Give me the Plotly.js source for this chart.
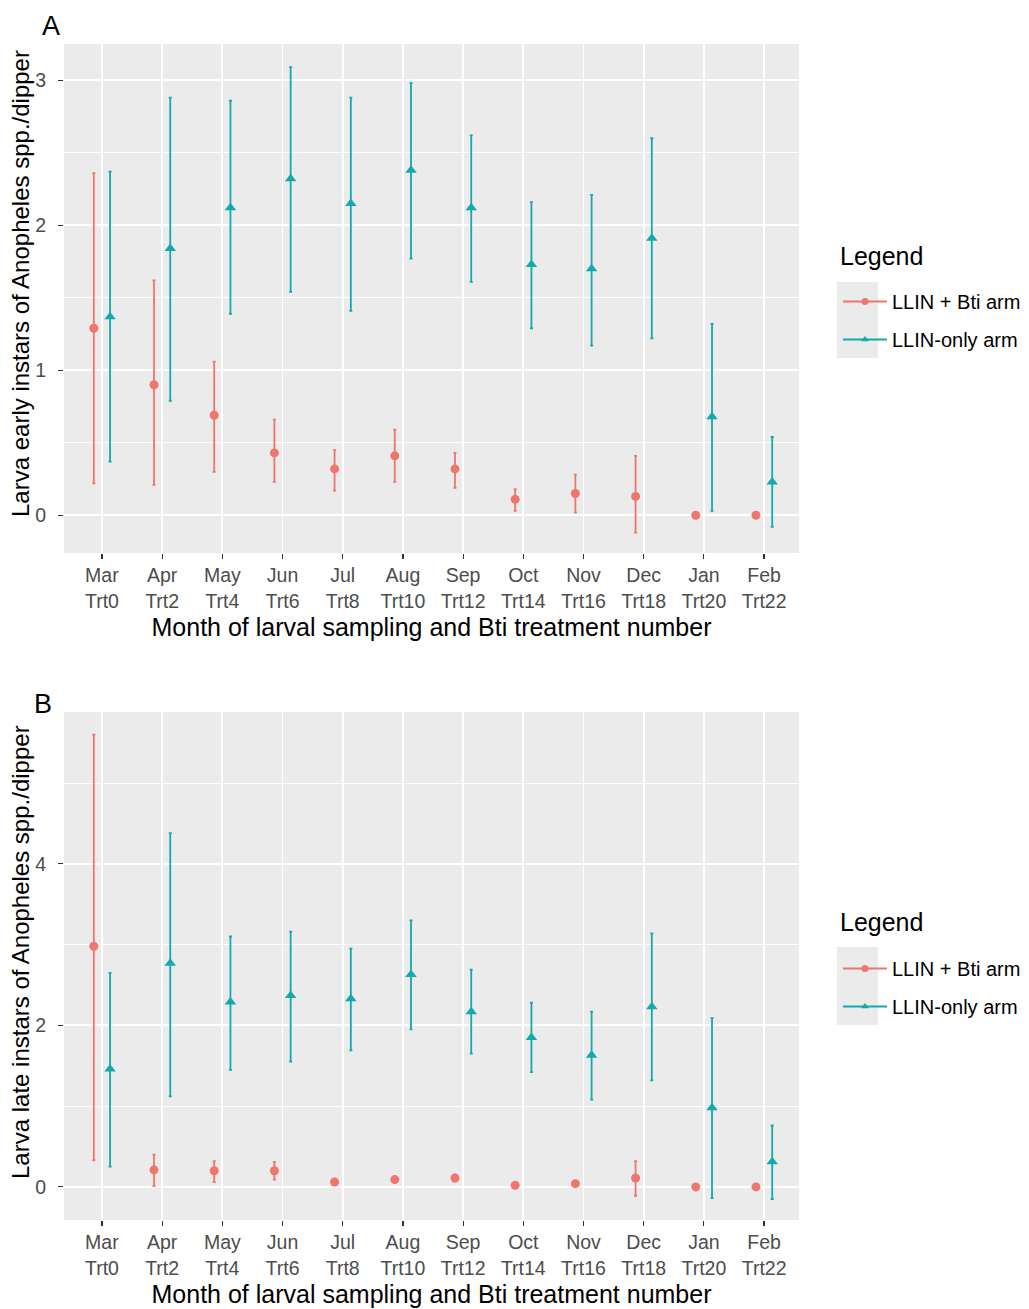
<!DOCTYPE html>
<html>
<head>
<meta charset="utf-8">
<script src="https://cdn.plot.ly/plotly-3.0.1.min.js"></script>
<style>
  html, body { margin: 0; padding: 0; background: #ffffff; }
  #chart { width: 1029px; height: 1309px; }
</style>
</head>
<body>
<div id="chart"></div>
<script>
// Sampling months and Bti treatment numbers
const months = ['Mar', 'Apr', 'May', 'Jun', 'Jul', 'Aug', 'Sep', 'Oct', 'Nov', 'Dec', 'Jan', 'Feb'];
const treatments = ['Trt0', 'Trt2', 'Trt4', 'Trt6', 'Trt8', 'Trt10', 'Trt12', 'Trt14', 'Trt16', 'Trt18', 'Trt20', 'Trt22'];

// A: early instars per dipper (mean, lower and upper interval limits)
const earlyBtiMean = [1.29, 0.90, 0.69, 0.43, 0.32, 0.41, 0.32, 0.11, 0.15, 0.13, 0.00, 0.00];
const earlyBtiLow  = [0.22, 0.21, 0.30, 0.23, 0.17, 0.23, 0.19, 0.03, 0.02, -0.12, 0.00, 0.00];
const earlyBtiHigh = [2.36, 1.62, 1.06, 0.66, 0.45, 0.59, 0.43, 0.18, 0.28, 0.41, 0.00, 0.00];

const earlyOnlyMean = [1.37, 1.84, 2.12, 2.32, 2.15, 2.38, 2.12, 1.73, 1.70, 1.91, 0.68, 0.23];
const earlyOnlyLow  = [0.37, 0.79, 1.39, 1.54, 1.41, 1.77, 1.61, 1.29, 1.17, 1.22, 0.03, -0.08];
const earlyOnlyHigh = [2.37, 2.88, 2.86, 3.09, 2.88, 2.98, 2.62, 2.16, 2.21, 2.60, 1.32, 0.54];

// B: late instars per dipper
const lateBtiMean = [2.98, 0.21, 0.20, 0.20, 0.06, 0.09, 0.11, 0.02, 0.04, 0.11, 0.00, 0.00];
const lateBtiLow  = [0.33, 0.01, 0.06, 0.09, 0.06, 0.09, 0.07, 0.02, 0.04, -0.11, 0.00, 0.00];
const lateBtiHigh = [5.60, 0.40, 0.32, 0.31, 0.06, 0.09, 0.15, 0.02, 0.04, 0.32, 0.00, 0.00];

const lateOnlyMean = [1.46, 2.77, 2.29, 2.37, 2.33, 2.63, 2.17, 1.85, 1.63, 2.23, 0.98, 0.31];
const lateOnlyLow  = [0.25, 1.12, 1.45, 1.55, 1.69, 1.95, 1.65, 1.42, 1.08, 1.32, -0.14, -0.15];
const lateOnlyHigh = [2.65, 4.38, 3.10, 3.16, 2.95, 3.30, 2.69, 2.28, 2.17, 3.14, 2.09, 0.76];

const seriesNames = ['LLIN + Bti arm', 'LLIN-only arm'];
const xTitle = 'Month of larval sampling and Bti treatment number';
const yTitleA = 'Larva early instars of Anopheles spp./dipper';
const yTitleB = 'Larva late instars of Anopheles spp./dipper';

const W = 1029, H = 1309;
const RED = '#EE766E';
const TEAL = '#12AAAC';
const FONT = 'Liberation Sans, Arial, sans-serif';

const idx = months.map((_, i) => i);
const tickText = months.map((m, i) => m + '<br>' + treatments[i]);
const dodge = 0.135;

function px(v) { return v / W; }
function py(v) { return 1 - v / H; }

function armTrace(mean, low, high, shift, color, symbol, size, xa, ya) {
  return {
    type: 'scatter',
    mode: 'markers',
    x: idx.map(i => i + shift),
    y: mean,
    xaxis: xa, yaxis: ya,
    showlegend: false,
    hoverinfo: 'skip',
    marker: { color: color, symbol: symbol, size: size, line: { width: 0 } },
    error_y: {
      type: 'data', symmetric: false,
      array: mean.map((m, i) => high[i] - m),
      arrayminus: mean.map((m, i) => m - low[i]),
      color: color, thickness: 1.8, width: 1.5
    }
  };
}

function legendTrace(name, color, symbol, size, xa, ya, legendId, group) {
  return {
    type: 'scatter', mode: 'lines+markers',
    x: [null], y: [null], xaxis: xa, yaxis: ya,
    name: name, legend: legendId, legendgroup: group,
    line: { color: color, width: 1.8 },
    marker: { color: color, symbol: symbol, size: size }
  };
}

const data = [
  armTrace(earlyBtiMean, earlyBtiLow, earlyBtiHigh, -dodge, RED, 'circle', 9, 'x', 'y'),
  armTrace(earlyOnlyMean, earlyOnlyLow, earlyOnlyHigh, dodge, TEAL, 'triangle-up', 10, 'x', 'y'),
  armTrace(lateBtiMean, lateBtiLow, lateBtiHigh, -dodge, RED, 'circle', 9, 'x2', 'y2'),
  armTrace(lateOnlyMean, lateOnlyLow, lateOnlyHigh, dodge, TEAL, 'triangle-up', 10, 'x2', 'y2'),
  legendTrace(seriesNames[0], RED, 'circle', 7, 'x', 'y', 'legend', 'a1'),
  legendTrace(seriesNames[1], TEAL, 'triangle-up', 7, 'x', 'y', 'legend', 'a2'),
  legendTrace(seriesNames[0], RED, 'circle', 7, 'x2', 'y2', 'legend2', 'b1'),
  legendTrace(seriesNames[1], TEAL, 'triangle-up', 7, 'x2', 'y2', 'legend2', 'b2')
];

function xAxis(anchor) {
  return {
    anchor: anchor,
    domain: [px(64), px(799)],
    range: [-0.63, 11.58],
    tickmode: 'array', tickvals: idx, ticktext: tickText,
    showgrid: true, gridcolor: '#ffffff', gridwidth: 1.8,
    zeroline: false, showline: false,
    ticks: 'outside', ticklen: 5, tickwidth: 1.2, tickcolor: '#333333',
    tickfont: { family: FONT, size: 19.5, color: '#4D4D4D' },
    title: { text: xTitle, font: { family: FONT, size: 25, color: '#000000' }, standoff: 7 },
    fixedrange: true
  };
}

function yAxis(anchor, dom, rng, step) {
  return {
    anchor: anchor,
    domain: dom,
    range: rng,
    dtick: step, tick0: 0,
    showgrid: true, gridcolor: '#ffffff', gridwidth: 1.8,
    minor: { dtick: step / 2, tick0: 0, showgrid: true, gridcolor: '#ffffff', gridwidth: 0.9, ticks: '' },
    zeroline: false, showline: false,
    ticks: 'outside', ticklen: 5, tickwidth: 1.2, tickcolor: '#333333',
    ticklabelstandoff: 8,
    tickfont: { family: FONT, size: 19.5, color: '#4D4D4D' },
    fixedrange: true
  };
}

function legendBox(top) {
  return {
    x: px(838), y: py(top), xanchor: 'left', yanchor: 'top',
    bgcolor: 'rgba(0,0,0,0)', borderwidth: 0,
    font: { family: FONT, size: 20, color: '#000000' },
    tracegroupgap: 9, itemwidth: 44
  };
}

function keyRect(y0, y1) {
  return {
    type: 'rect', xref: 'paper', yref: 'paper', layer: 'below',
    x0: px(837), x1: px(878), y0: py(y1), y1: py(y0),
    fillcolor: '#EBEBEB', line: { width: 0 }
  };
}

function label(text, x, y, size, angle) {
  return {
    text: text, xref: 'paper', yref: 'paper', x: px(x), y: py(y),
    xanchor: 'center', yanchor: 'middle', showarrow: false, textangle: angle || 0,
    font: { family: FONT, size: size, color: '#000000' }
  };
}

function legendTitle(y) {
  return {
    text: 'Legend', xref: 'paper', yref: 'paper', x: px(838), y: py(y),
    xanchor: 'left', yanchor: 'middle', showarrow: false,
    font: { family: FONT, size: 25, color: '#000000' }
  };
}

const layout = {
  width: W, height: H,
  margin: { l: 0, r: 0, t: 0, b: 0 },
  paper_bgcolor: '#ffffff',
  plot_bgcolor: '#EBEBEB',
  showlegend: true,
  font: { family: FONT },
  xaxis: xAxis('y'),
  yaxis: yAxis('x', [py(553), py(44)], [-0.26, 3.25], 1),
  xaxis2: xAxis('y2'),
  yaxis2: yAxis('x2', [py(1220), py(712)], [-0.41, 5.88], 2),
  legend: legendBox(282),
  legend2: legendBox(949),
  shapes: [keyRect(282, 358), keyRect(947, 1025)],
  annotations: [
    label('A', 51, 26, 27),
    label('B', 43, 704, 27),
    label(yTitleA, 20, 284, 24, -90),
    label(yTitleB, 20, 952, 24, -90),
    legendTitle(256),
    legendTitle(922)
  ]
};

Plotly.newPlot('chart', data, layout, { staticPlot: true, displayModeBar: false });
</script>
</body>
</html>
